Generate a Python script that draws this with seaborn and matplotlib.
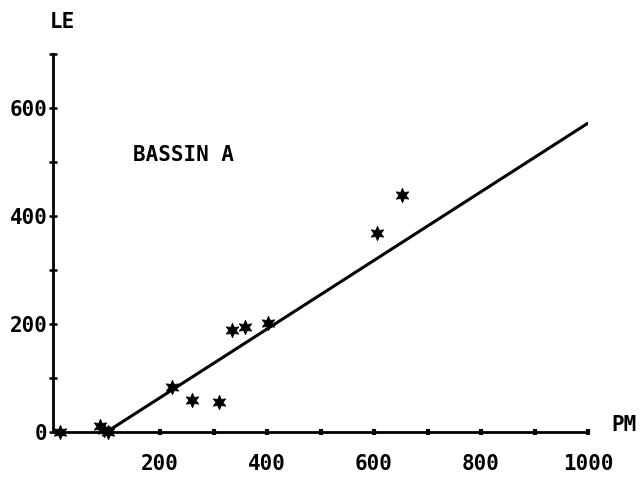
import matplotlib
matplotlib.use("Agg")
import matplotlib.pyplot as plt
import seaborn as sns
import pandas as pd

# Data
pm = [13, 88, 95, 102, 222, 260, 310, 335, 359, 402, 606, 653]
le = [0, 12, 3, 0, 84, 60, 55, 189, 195, 201, 368, 439]
fit_x = [100, 1000]
fit_y = [0, 572]
x_ticks = [100, 200, 300, 400, 500, 600, 700, 800, 900, 1000]
x_labels = ["", "200", "", "400", "", "600", "", "800", "", "1000"]
y_ticks = [0, 100, 200, 300, 400, 500, 600, 700]
y_labels = ["0", "", "200", "", "400", "", "600", ""]

sns.set_theme(style="white")
plt.rcParams['font.family'] = ['DejaVu Sans Mono', 'DejaVu Sans']
plt.rcParams['font.weight'] = 'bold'
plt.rcParams['text.color'] = 'black'
plt.rcParams['xtick.color'] = 'black'
plt.rcParams['ytick.color'] = 'black'

fig = plt.figure(figsize=(6.42, 4.82), dpi=100)
ax = fig.add_axes([53/642, 50/482, 535/642, 378/482])

df = pd.DataFrame({"PM": pm, "LE": le})
sns.scatterplot(data=df, x="PM", y="LE", marker=(6, 1, 0), s=110,
                color="black", edgecolor="black", linewidth=0.5, ax=ax, clip_on=False, zorder=3)
sns.lineplot(x=fit_x, y=fit_y, color="black", linewidth=2.2, ax=ax)

ax.set_xlim(0, 1000)
ax.set_ylim(0, 700)
for s in ["top", "right"]:
    ax.spines[s].set_visible(False)
for s in ["left", "bottom"]:
    ax.spines[s].set_color("black")
    ax.spines[s].set_linewidth(2.0)

ax.set_xticks(x_ticks)
ax.set_xticklabels(x_labels, fontsize=15, fontweight="bold", color="black")
ax.set_yticks(y_ticks)
ax.set_yticklabels(y_labels, fontsize=15, fontweight="bold", color="black")
ax.tick_params(axis="x", bottom=True, direction="inout", length=4, width=3,
               color="black", pad=14, labelcolor="black")
ax.tick_params(axis="y", left=True, direction="inout", length=6, width=1.8,
               color="black", pad=1, labelcolor="black")
ax.set_xlabel("")
ax.set_ylabel("")

fig.text(62/642, 1 - 22/482, "LE", fontsize=15, fontweight="bold", ha="center", va="center", color="black")
fig.text(624/642, 1 - 425/482, "PM", fontsize=15, fontweight="bold", ha="center", va="center", color="black")
ax.text(150, 513, "BASSIN A", fontsize=15, fontweight="bold", ha="left", va="center", color="black")

fig.savefig("out.png", dpi=100, facecolor="white")
